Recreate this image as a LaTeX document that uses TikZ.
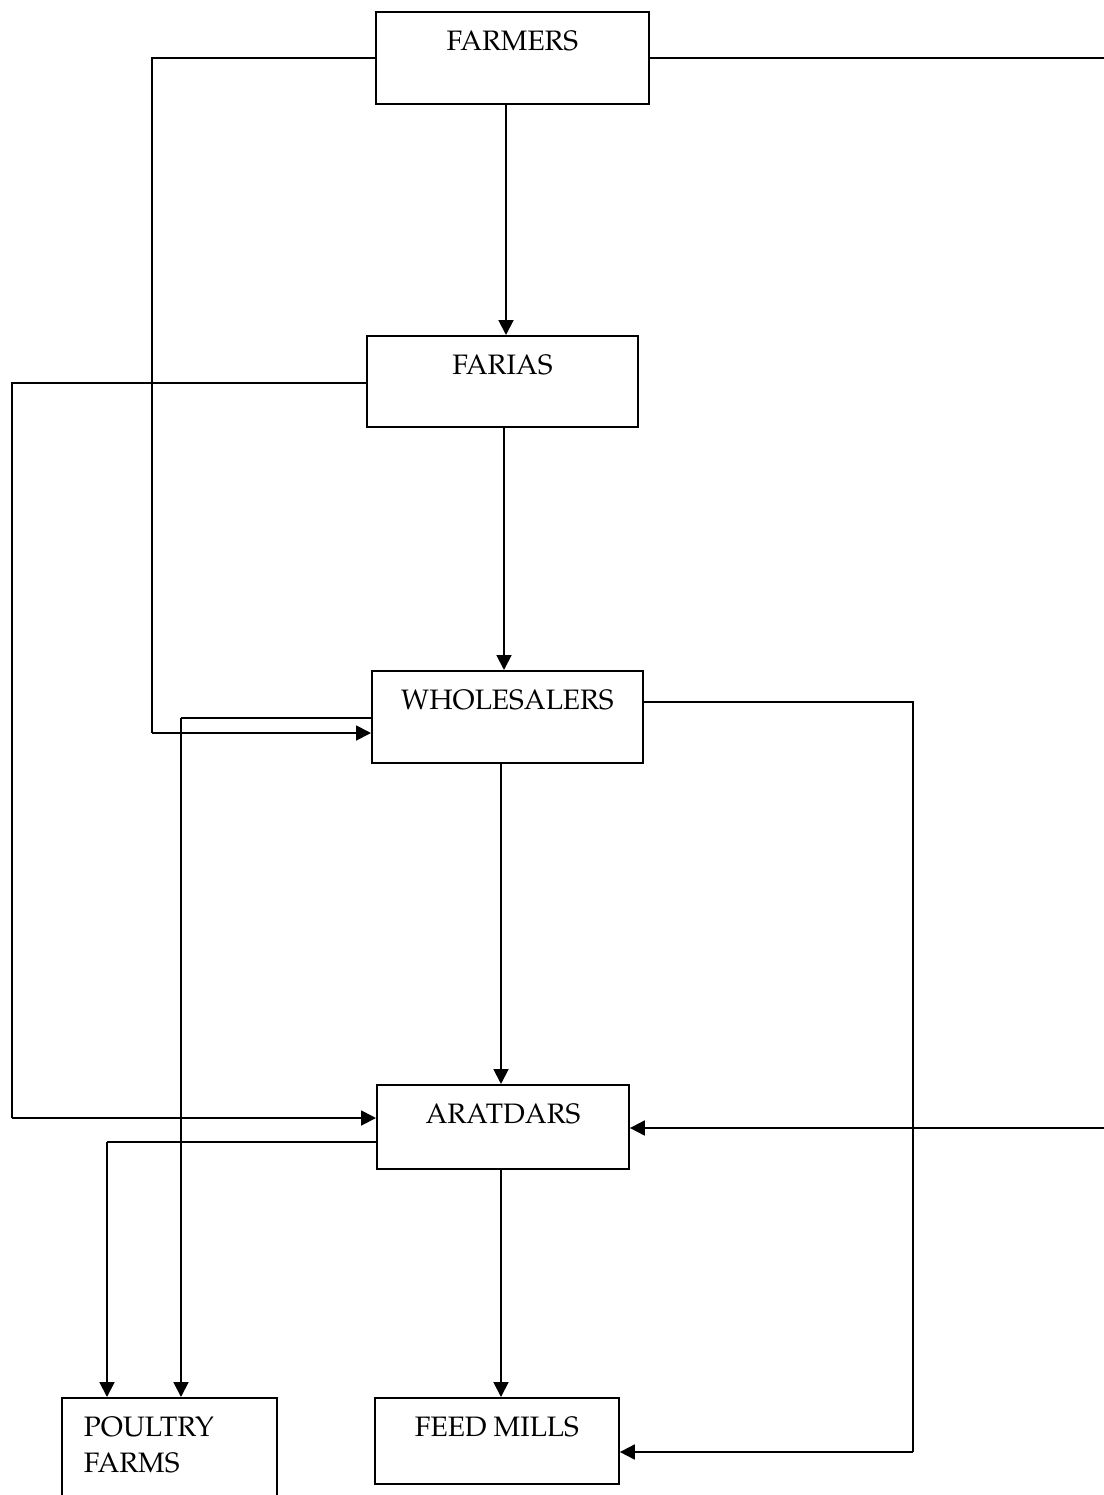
\documentclass[tikz,border=0pt]{standalone}
\usepackage[T1]{fontenc}
\usepackage{mathpazo}
\usetikzlibrary{arrows.meta}

\tikzset{
  blk/.style={draw,line width=1.1pt,inner sep=0pt,anchor=north west,
    font=\fontsize{16}{20.5}\selectfont,text height=0.78cm},
  flow/.style={line width=1.1pt,-{Triangle[length=8.5pt,width=8.5pt]}},
  link/.style={line width=.75pt}
}

\begin{document}
\begin{tikzpicture}[x=0.02cm,y=-0.02cm]
    \useasboundingbox (0,0) rectangle (1104,1495);
    % boxes
    \node[blk,minimum width=5.46cm,text depth=1.06cm] (farmers) at (375,11) {FARMERS};
    \node[blk,minimum width=5.42cm,text depth=1.04cm] (farias) at (366,335) {FARIAS};
    \node[blk,minimum width=5.42cm,text depth=1.06cm] (whole) at (371,670) {WHOLESALERS};
    \node[blk,minimum width=5.04cm,text depth=0.90cm] (aratdar) at (376,1084) {ARATDARS};
    \node[blk,minimum width=4.88cm,text depth=0.94cm] (feed) at (374,1397) {FEED MILLS};
    \node[blk,align=left,inner xsep=0.44cm,text width=3.42cm,text depth=1.6cm] (poultry) at (61,1397) {POULTRY\\FARMS};
    % main chain
    \draw[flow] (farmers.south -| 506,0) -- (farias.north -| 506,0);
    \draw[flow] (farias.south -| 504,0) -- (whole.north -| 504,0);
    \draw[flow] (whole.south -| 501,0) -- (aratdar.north -| 501,0);
    \draw[flow] (aratdar.south -| 501,0) -- (feed.north -| 501,0);
    % farmers -> wholesalers, aratdars
    \draw[link] (farmers.west |- 0,58) -- (152,58) -- (152,733);
    \draw[flow] (152,733) -- (whole.west |- 0,733);
    \draw[link] (farmers.east |- 0,58) -- (1106,58) -- (1106,1128);
    \draw[flow] (1106,1128) -- (aratdar.east |- 0,1128);
    % farias -> aratdars
    \draw[link] (farias.west |- 0,383) -- (12,383) -- (12,1118);
    \draw[flow] (12,1118) -- (aratdar.west |- 0,1118);
    % to poultry farms
    \draw[link] (whole.west |- 0,718) -- (181,718);
    \draw[flow] (181,718) -- (poultry.north -| 181,0);
    \draw[link] (aratdar.west |- 0,1142) -- (107,1142);
    \draw[flow] (107,1142) -- (poultry.north -| 107,0);
    % wholesalers -> feed mills
    \draw[link] (whole.east |- 0,702) -- (913,702) -- (913,1452);
    \draw[flow] (913,1452) -- (feed.east |- 0,1452);
\end{tikzpicture}
\end{document}
